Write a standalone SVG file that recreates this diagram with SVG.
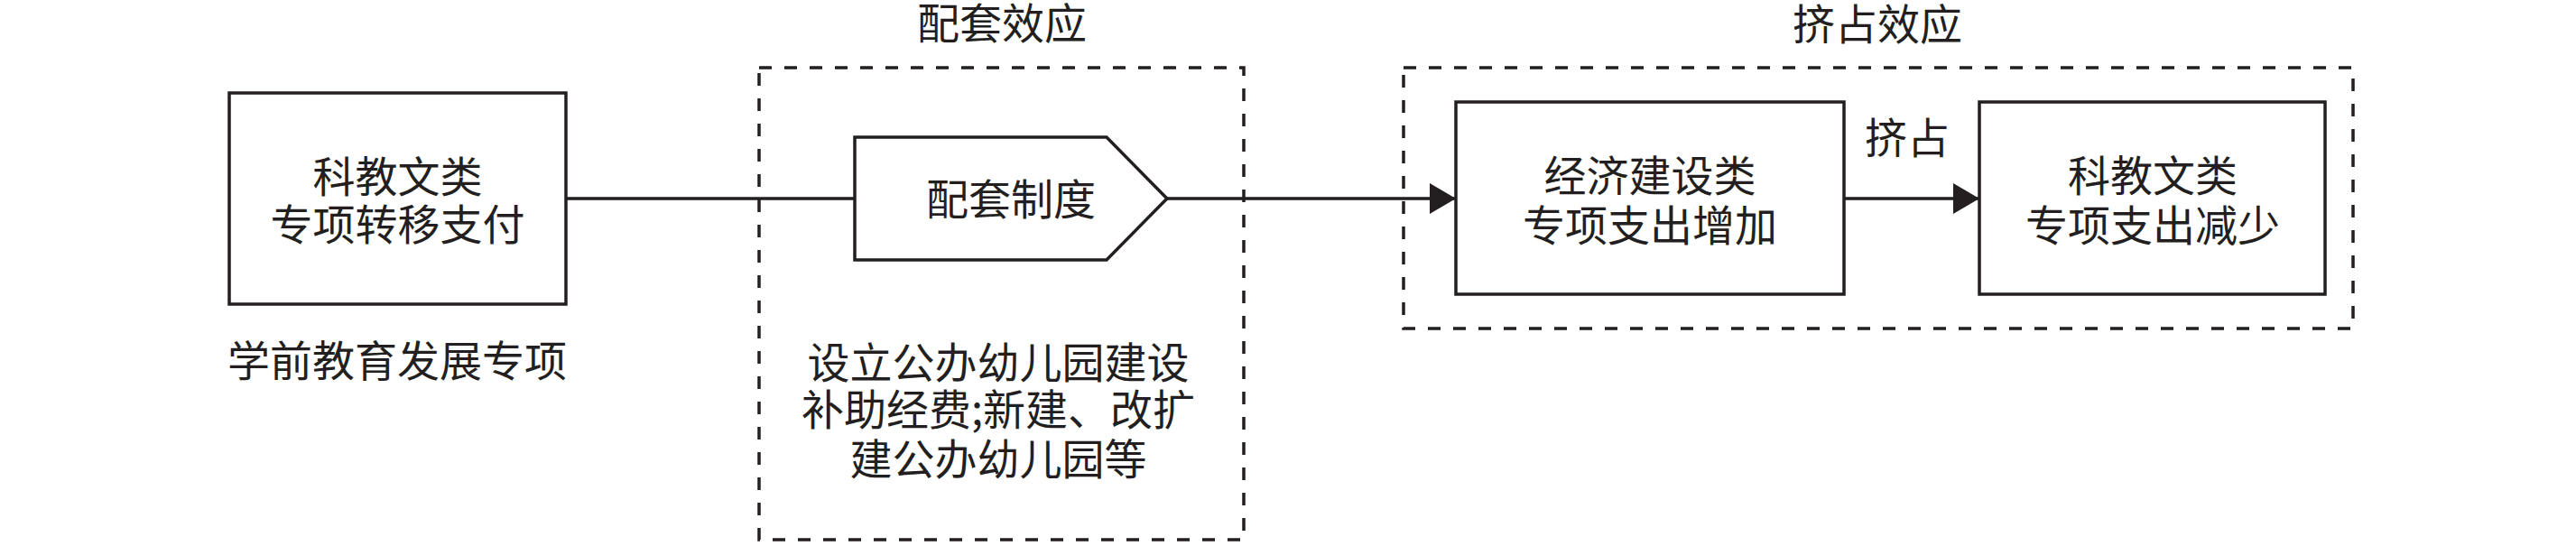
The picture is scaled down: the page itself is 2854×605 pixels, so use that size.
<svg xmlns="http://www.w3.org/2000/svg" width="2854" height="605" viewBox="0 0 2854 605">
<style>
  text { font-family: "Noto Sans CJK SC", "Noto Sans CJK TC", sans-serif; font-size: 47px; fill: #231f20; text-anchor: middle; }
  .box { fill: #ffffff; stroke: #231f20; stroke-width: 3.5; }
  .group { fill: none; stroke: #231f20; stroke-width: 3.5; stroke-dasharray: 14 14; }
  .conn { fill: none; stroke: #231f20; stroke-width: 3.5; }
</style>
<defs>
  <marker id="arrow" markerUnits="userSpaceOnUse" markerWidth="30" markerHeight="36" refX="29" refY="17" orient="auto" viewBox="0 0 30 36">
    <polygon points="0,0 29,17 0,34" fill="#231f20"/>
  </marker>
</defs>
<rect width="2854" height="605" fill="#ffffff"/>

<g id="group-peitao">
  <rect class="group" x="841" y="75" width="537" height="523"/>
  <text x="1110" y="43">配套效应</text>
</g>
<g id="group-jizhan">
  <rect class="group" x="1555" y="75" width="1052" height="289"/>
  <text x="2080" y="44">挤占效应</text>
</g>

<g id="connectors">
  <line class="conn" x1="627" y1="220" x2="947" y2="220"/>
  <line class="conn" x1="1293" y1="220" x2="1613" y2="220" marker-end="url(#arrow)"/>
  <line class="conn" x1="2043" y1="220" x2="2193" y2="220" marker-end="url(#arrow)"/>
  <text x="2113" y="170">挤占</text>
</g>

<g id="node-transfer">
  <rect class="box" x="254" y="103" width="373" height="234"/>
  <text x="440.5" y="213">科教文类</text>
  <text x="440.5" y="266">专项转移支付</text>
</g>
<g id="label-preschool">
  <text x="440" y="417">学前教育发展专项</text>
</g>

<g id="node-system">
  <polygon class="box" points="947,152 1226,152 1293,220 1226,288 947,288"/>
  <text x="1120" y="238">配套制度</text>
</g>
<g id="label-measures">
  <text x="1106" y="419">设立公办幼儿园建设</text>
  <text x="1106" y="471">补助经费;新建、改扩</text>
  <text x="1106" y="526">建公办幼儿园等</text>
</g>

<g id="node-econ">
  <rect class="box" x="1613" y="113" width="430" height="213"/>
  <text x="1828" y="212">经济建设类</text>
  <text x="1828" y="267">专项支出增加</text>
</g>
<g id="node-edu">
  <rect class="box" x="2193" y="113" width="383" height="213"/>
  <text x="2385" y="212">科教文类</text>
  <text x="2385" y="267">专项支出减少</text>
</g>
</svg>
